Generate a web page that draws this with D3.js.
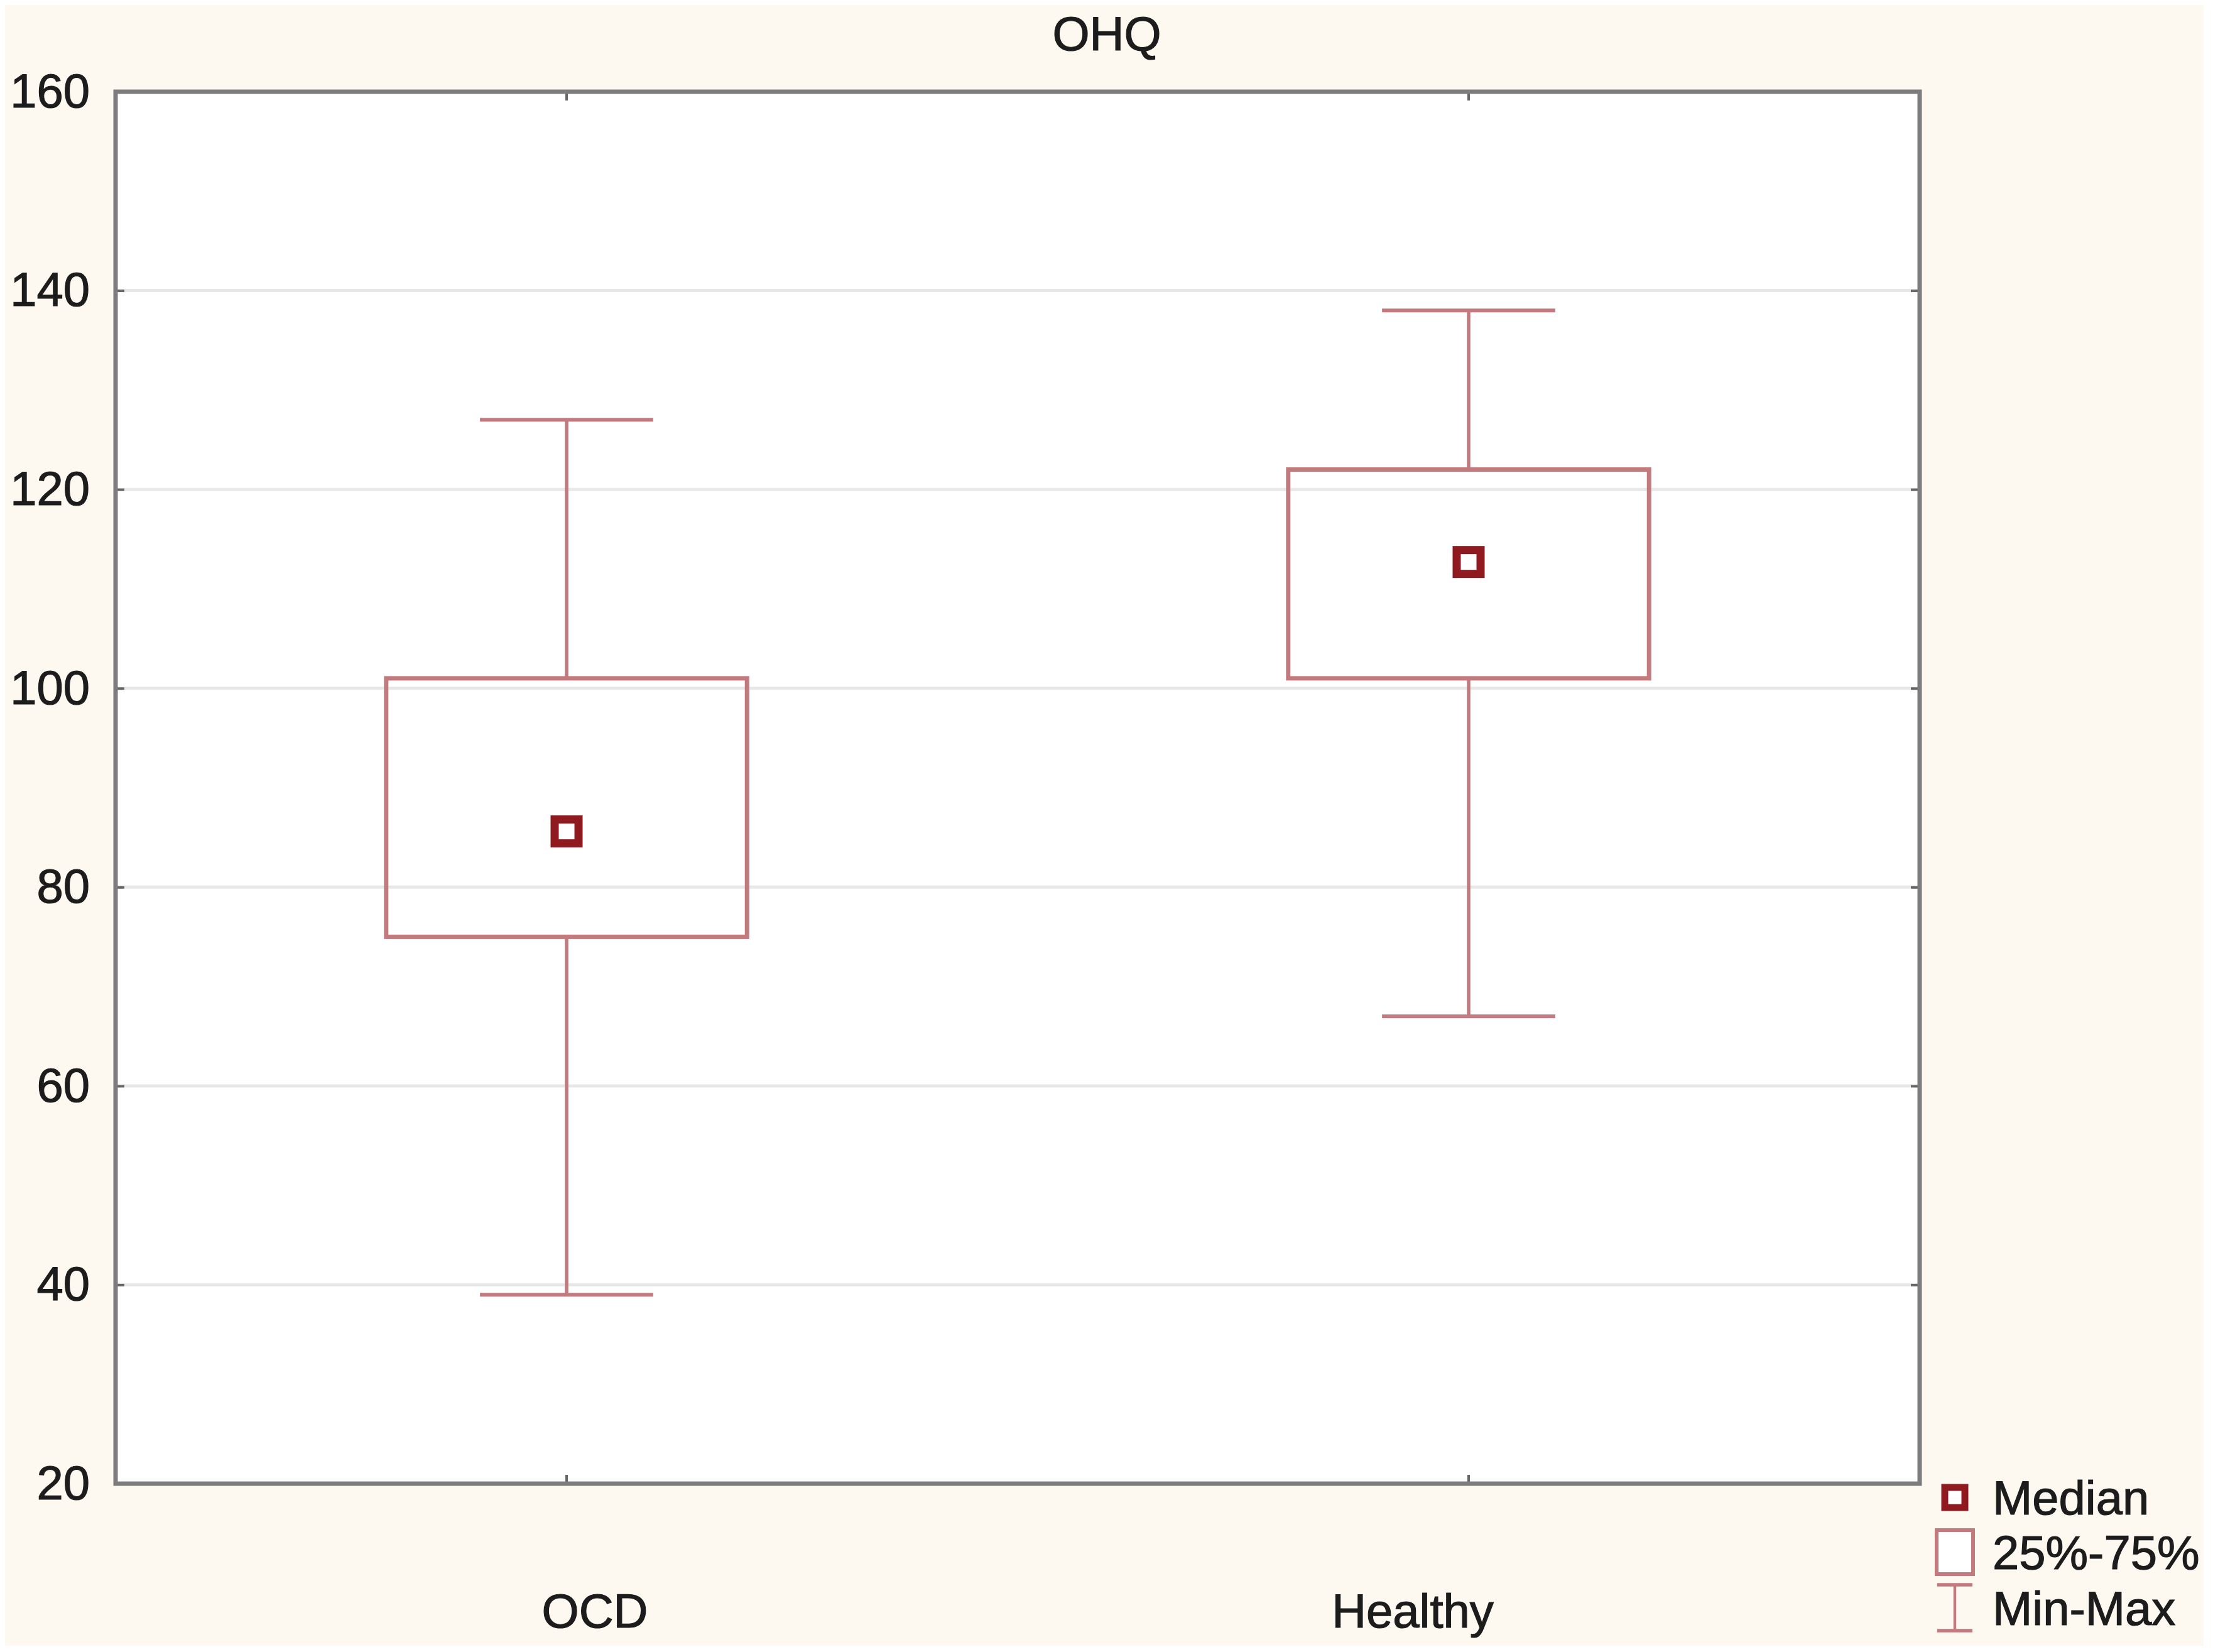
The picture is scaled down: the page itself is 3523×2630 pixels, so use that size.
<!DOCTYPE html>
<html lang="en">
<head>
    <meta charset="UTF-8">
    <title>OHQ</title>
    <script src="https://d3js.org/d3.v7.min.js"></script>
    <style>
        body { margin: 0; background: #ffffff; }
        text { font-family: "Liberation Sans", Arial, sans-serif; fill: #1c1c1c; stroke: #1c1c1c; stroke-width: 1.2px; }
    </style>
</head>
<body>
    <div class="chart"></div>

    <script>
        // data
        const groups = ["OCD", "Healthy"];
        const mins = [39, 67];
        const q1s = [75, 101];
        const medians = [85.6, 112.7];
        const q3s = [101, 122];
        const maxs = [127, 138];
        const yTicks = [20, 40, 60, 80, 100, 120, 140, 160];
        const legendLabels = ["Median", "25%-75%", "Min-Max"];
        const title = "OHQ";

        const w = 3523, h = 2630;
        const plotL = 184, plotR = 3056, plotT = 146, plotB = 2362;
        const boxColor = "#c27a7e";
        const medColor = "#8f1a1f";
        const fontSize = 76;
        // the category labels sit a bit off their ticks in the original
        const labelNudge = [45, -89];

        const svg = d3.select(".chart").append("svg")
            .attr("width", w)
            .attr("height", h);

        // cream page background with thin white rim
        svg.append("rect")
            .attr("x", 8).attr("y", 8)
            .attr("width", 3500).attr("height", 2612)
            .attr("fill", "#fdf9f1");

        const x = d3.scaleBand().domain(groups).range([plotL, plotR]).padding(0);
        const y = d3.scaleLinear().domain([20, 160]).range([plotB, plotT]);
        const bw = x.bandwidth();
        const cx = d => x(d) + bw / 2;

        // plot area
        svg.append("rect")
            .attr("x", plotL).attr("y", plotT)
            .attr("width", plotR - plotL).attr("height", plotB - plotT)
            .attr("fill", "#ffffff");

        // grid lines
        svg.append("g")
            .selectAll("line")
            .data(yTicks.slice(1, -1))
            .join("line")
            .attr("x1", plotL).attr("x2", plotR)
            .attr("y1", d => y(d)).attr("y2", d => y(d))
            .attr("stroke", "#e8e8e8")
            .attr("stroke-width", 5);

        // axes with inward ticks
        svg.append("g")
            .attr("transform", `translate(${plotL},0)`)
            .call(d3.axisLeft(y).tickValues(yTicks).tickSizeInner(-14).tickSizeOuter(0).tickPadding(41));
        svg.append("g")
            .attr("transform", `translate(${plotR},0)`)
            .call(d3.axisRight(y).tickValues(yTicks).tickSizeInner(-14).tickSizeOuter(0).tickFormat(""));
        const xAxis = svg.append("g")
            .attr("transform", `translate(0,${plotB})`)
            .call(d3.axisBottom(x).tickSizeInner(-14).tickSizeOuter(0).tickPadding(175));
        svg.append("g")
            .attr("transform", `translate(0,${plotT})`)
            .call(d3.axisTop(x).tickSizeInner(-14).tickSizeOuter(0).tickFormat(""));

        svg.selectAll(".domain").remove();
        svg.selectAll(".tick line").attr("stroke", "#666").attr("stroke-width", 4);
        svg.selectAll(".tick text")
            .attr("font-size", fontSize)
            .attr("font-family", "Liberation Sans, Arial, sans-serif")
            .attr("fill", "#1c1c1c");
        xAxis.selectAll(".tick text").attr("dx", (d, i) => labelNudge[i]);

        // frame
        svg.append("rect")
            .attr("x", plotL).attr("y", plotT)
            .attr("width", plotR - plotL).attr("height", plotB - plotT)
            .attr("fill", "none")
            .attr("stroke", "#7d7d7d")
            .attr("stroke-width", 7);

        // boxes and whiskers
        const capW = bw * 0.192;
        const boxW = bw * 0.4;
        const bp = svg.append("g");
        groups.forEach((g, i) => {
            bp.append("line")
                .attr("x1", cx(g)).attr("x2", cx(g))
                .attr("y1", y(maxs[i])).attr("y2", y(q3s[i]))
                .attr("stroke", boxColor).attr("stroke-width", 5.5);
            bp.append("line")
                .attr("x1", cx(g)).attr("x2", cx(g))
                .attr("y1", y(q1s[i])).attr("y2", y(mins[i]))
                .attr("stroke", boxColor).attr("stroke-width", 5.5);
            [maxs[i], mins[i]].forEach(v => {
                bp.append("line")
                    .attr("x1", cx(g) - capW / 2).attr("x2", cx(g) + capW / 2)
                    .attr("y1", y(v)).attr("y2", y(v))
                    .attr("stroke", boxColor).attr("stroke-width", 6);
            });
            bp.append("rect")
                .attr("x", cx(g) - boxW / 2)
                .attr("y", y(q3s[i]))
                .attr("width", boxW)
                .attr("height", y(q1s[i]) - y(q3s[i]))
                .attr("fill", "none")
                .attr("stroke", boxColor).attr("stroke-width", 7);
            bp.append("rect")
                .attr("x", cx(g) - 19).attr("y", y(medians[i]) - 19)
                .attr("width", 38).attr("height", 38)
                .attr("fill", "#ffffff")
                .attr("stroke", medColor).attr("stroke-width", 13);
        });

        // title
        svg.append("text")
            .attr("x", 1762).attr("y", 80)
            .attr("text-anchor", "middle")
            .attr("font-size", fontSize)
            .text(title);

        // legend
        const lg = svg.append("g");
        const rowY = [2384, 2471, 2560];
        const sx = 3112;
        lg.append("rect")
            .attr("x", sx - 16).attr("y", rowY[0] - 16)
            .attr("width", 32).attr("height", 32)
            .attr("fill", "#ffffff")
            .attr("stroke", medColor).attr("stroke-width", 11);
        lg.append("rect")
            .attr("x", sx - 29).attr("y", rowY[1] - 35)
            .attr("width", 58).attr("height", 70)
            .attr("fill", "#ffffff")
            .attr("stroke", boxColor).attr("stroke-width", 6);
        lg.append("line")
            .attr("x1", sx).attr("x2", sx)
            .attr("y1", rowY[2] - 37).attr("y2", rowY[2] + 36)
            .attr("stroke", boxColor).attr("stroke-width", 4.5);
        [rowY[2] - 37, rowY[2] + 36].forEach(v => {
            lg.append("line")
                .attr("x1", sx - 28).attr("x2", sx + 28)
                .attr("y1", v).attr("y2", v)
                .attr("stroke", boxColor).attr("stroke-width", 5.5);
        });
        lg.selectAll("text")
            .data(legendLabels)
            .join("text")
            .attr("x", 3172)
            .attr("y", (d, i) => rowY[i] + 27)
            .attr("font-size", fontSize)
            .text(d => d);
    </script>
</body>
</html>
